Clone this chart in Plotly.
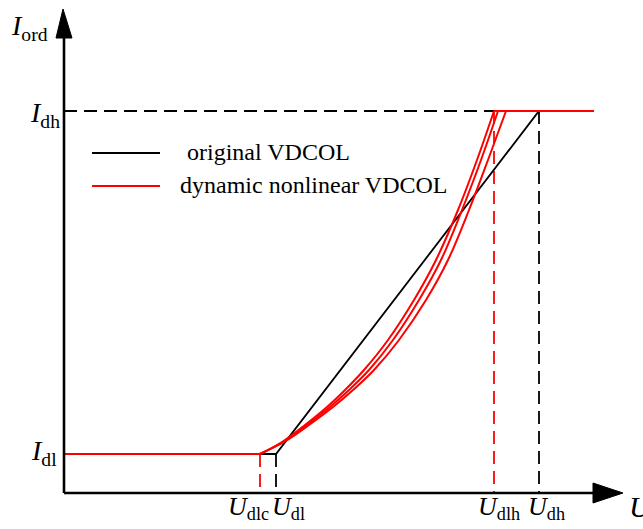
import plotly.graph_objects as go

# ---- key levels (arbitrary units) ----
U_dlc = 196
U_dl = 212
U_dlh = 430
U_dh = 475
U_end = 530
I_dl = 39
I_dh = 382

# original VDCOL (piecewise linear)
orig_u = [0, U_dl, U_dh, U_end]
orig_i = [I_dl, I_dl, I_dh, I_dh]

# dynamic nonlinear VDCOL: three curves sampled at common current levels
curve_i = [39, 51, 68, 86, 103, 123, 153, 193, 233, 283, 333, 382]
curve_a_u = [196, 218, 241, 263, 281, 300, 324, 350, 372, 394, 413, 430]
curve_b_u = [196, 219, 243, 266, 285, 305, 329, 355, 377, 398, 417, 434]
curve_c_u = [196, 220, 245, 269, 289, 310, 335, 362, 384, 405, 424, 442]

legend_labels = [" original VDCOL", "dynamic nonlinear VDCOL"]

FONT = "Liberation Serif"
BLACK = "#000000"
RED = "#ff0000"
DASH = "13px,7px"

fig = go.Figure()

# dashed guide lines
def guide(xs, ys, color):
    fig.add_trace(go.Scatter(x=xs, y=ys, mode="lines",
                             line=dict(color=color, width=1.8, dash=DASH),
                             hoverinfo="skip", showlegend=False))

guide([0, U_dh], [I_dh, I_dh], BLACK)
guide([U_dh, U_dh], [I_dh, 0], BLACK)
guide([U_dl, U_dl], [I_dl, 0], BLACK)
guide([U_dlh, U_dlh], [I_dh, 0], RED)
guide([U_dlc, U_dlc], [I_dl, 0], RED)

# original VDCOL
fig.add_trace(go.Scatter(x=orig_u, y=orig_i, mode="lines",
                         line=dict(color=BLACK, width=1.8),
                         name="original VDCOL", showlegend=False))

# dynamic nonlinear VDCOL
fig.add_trace(go.Scatter(x=[0, U_dlc], y=[I_dl, I_dl], mode="lines",
                         line=dict(color=RED, width=2.2), showlegend=False))
fig.add_trace(go.Scatter(x=[U_dlh, U_end], y=[I_dh, I_dh], mode="lines",
                         line=dict(color=RED, width=2.2), showlegend=False))
for cu in (curve_a_u, curve_b_u, curve_c_u):
    fig.add_trace(go.Scatter(x=cu, y=curve_i, mode="lines",
                             line=dict(color=RED, width=2.0, shape="spline", smoothing=1.0),
                             showlegend=False))

# ---- axes drawn as arrows ----
X_MIN, X_MAX = -64, 579
Y_MIN, Y_MAX = -36, 493
y_arrow_base, y_arrow_tip = 455, 484
x_arrow_base, x_arrow_tip = 529, 559
shapes = [
    dict(type="line", x0=0, y0=0, x1=0, y1=y_arrow_base, line=dict(color=BLACK, width=2.6)),
    dict(type="line", x0=0, y0=0, x1=x_arrow_base, y1=0, line=dict(color=BLACK, width=2.6)),
    dict(type="path", path=f"M -8 {y_arrow_base} L 8 {y_arrow_base} L -1 {y_arrow_tip} Z",
         fillcolor=BLACK, line=dict(color=BLACK, width=1)),
    dict(type="path", path=f"M {x_arrow_base} -10 L {x_arrow_base} 10 L {x_arrow_tip} 0 Z",
         fillcolor=BLACK, line=dict(color=BLACK, width=1)),
    # legend samples
    dict(type="line", x0=28, y0=340, x1=96, y1=340, line=dict(color=BLACK, width=1.8)),
    dict(type="line", x0=28, y0=307, x1=96, y1=307, line=dict(color=RED, width=2)),
]

def ann(text, x, y, size=24, xanchor="center", yanchor="middle", xshift=0, yshift=0):
    return dict(text=text, x=x, y=y, xref="x", yref="y", showarrow=False,
                xanchor=xanchor, yanchor=yanchor, xshift=xshift, yshift=yshift,
                font=dict(family=FONT, size=size, color=BLACK))

annotations = [
    ann("<i>I</i><sub>ord</sub>", -14, 466, size=28, xanchor="right"),
    ann("<i>I</i><sub>dh</sub>", 0, I_dh, size=28, xanchor="right", xshift=-2, yshift=-3),
    ann("<i>I</i><sub>dl</sub>", 0, I_dl, size=28, xanchor="right", xshift=-5, yshift=2),
    ann("<i>U</i><sub>dlc</sub>", U_dlc, -15, size=26, xshift=-12),
    ann("<i>U</i><sub>dl</sub>", U_dl, -15, size=26, xshift=12),
    ann("<i>U</i><sub>dlh</sub>", U_dlh, -15, size=26, xshift=5),
    ann("<i>U</i><sub>dh</sub>", U_dh, -15, size=26, xshift=7),
    ann("<i>U</i>", 563, -13, size=30, xanchor="left"),
    ann(legend_labels[0], 115, 341, xanchor="left"),
    ann(legend_labels[1], 114, 308, xanchor="left"),
]

fig.update_layout(
    width=643, height=529,
    margin=dict(l=0, r=0, t=0, b=0),
    paper_bgcolor="white", plot_bgcolor="white",
    xaxis=dict(range=[X_MIN, X_MAX], visible=False, fixedrange=True),
    yaxis=dict(range=[Y_MIN, Y_MAX], visible=False, fixedrange=True),
    shapes=shapes, annotations=annotations, showlegend=False,
)

fig.write_html("out.html")
